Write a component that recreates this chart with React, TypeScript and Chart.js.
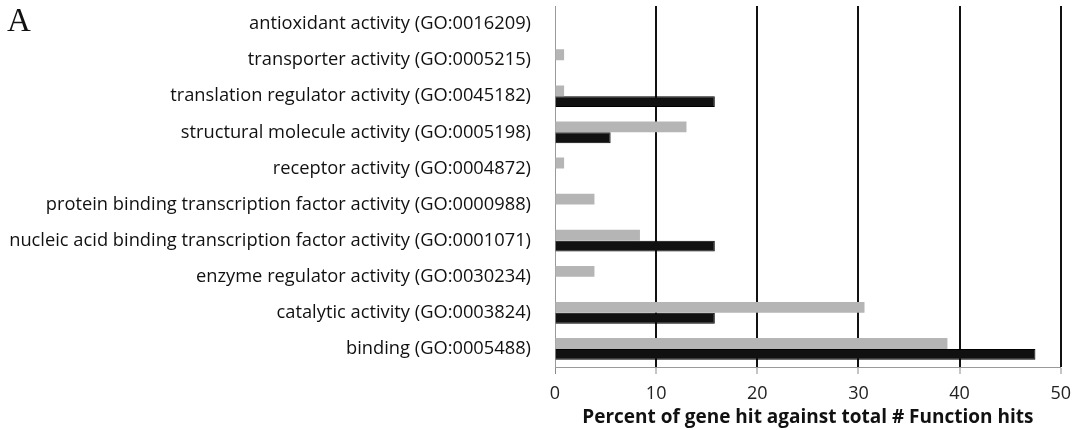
import React, { useEffect, useRef } from "react";
import { Chart, registerables } from "chart.js";

Chart.register(...registerables);

const categories = [
  "antioxidant activity (GO:0016209)",
  "transporter activity (GO:0005215)",
  "translation regulator activity (GO:0045182)",
  "structural molecule activity (GO:0005198)",
  "receptor activity (GO:0004872)",
  "protein binding transcription factor activity (GO:0000988)",
  "nucleic acid binding transcription factor activity (GO:0001071)",
  "enzyme regulator activity (GO:0030234)",
  "catalytic activity (GO:0003824)",
  "binding (GO:0005488)",
];

const grayValues = [0, 0.9, 0.9, 13.0, 0.9, 3.9, 8.4, 3.9, 30.6, 38.8];
const blackValues = [0, 0, 15.8, 5.5, 0, 0, 15.8, 0, 15.8, 47.5];

const xTicks = [0, 10, 20, 30, 40, 50];
const xTitle = "Percent of gene hit against total # Function hits";
const panelLabel = "A";

export default function App() {
  const ref = useRef<HTMLCanvasElement | null>(null);

  useEffect(() => {
    if (!ref.current) return;
    const chart = new Chart(ref.current, {
      type: "bar",
      data: {
        labels: categories,
        datasets: [
          {
            label: "gray",
            data: grayValues,
            backgroundColor: "#b5b5b5",
            borderWidth: 0,
            barPercentage: 1,
            categoryPercentage: 0.6,
          },
          {
            label: "black",
            data: blackValues,
            backgroundColor: "#111111",
            borderColor: "#000000",
            borderWidth: 1,
            barPercentage: 1,
            categoryPercentage: 0.6,
          },
        ],
      },
      options: {
        indexAxis: "y",
        animation: false,
        responsive: false,
        maintainAspectRatio: false,
        layout: { padding: { left: 0, right: 16, top: 6, bottom: 0 } },
        plugins: {
          legend: { display: false },
          tooltip: { enabled: false },
        },
        scales: {
          x: {
            min: 0,
            max: 50,
            afterBuildTicks: (scale: any) => {
              scale.ticks = xTicks.map((v) => ({ value: v }));
            },
            afterFit: (scale: any) => {
              scale.height = 63;
            },
            grid: {
              color: (ctx: any) => (ctx.tick && ctx.tick.value === 0 ? "#9a9a9a" : "#111111"),
              lineWidth: (ctx: any) => (ctx.tick && ctx.tick.value === 0 ? 1 : 2),
              tickColor: "#8a8a8a",
              tickLength: 7,
              tickWidth: 1,
            },
            border: { display: true, color: "#9a9a9a", width: 1 },
            ticks: {
              color: "#222222",
              font: { family: "Open Sans", size: 18 },
              padding: 9,
            },
            title: {
              display: true,
              text: xTitle,
              color: "#111111",
              font: { family: "Open Sans", size: 19, weight: "bold", lineHeight: 1 },
              padding: { top: 0, bottom: 3 },
            },
          },
          y: {
            afterFit: (scale: any) => {
              scale.width = 555;
              scale.paddingTop = 0;
              scale.paddingBottom = 0;
            },
            grid: { display: false, drawTicks: false },
            border: { display: true, color: "#9a9a9a", width: 1 },
            ticks: {
              color: "#111111",
              font: { family: "Open Sans", size: 18.3 },
              padding: 24,
              autoSkip: false,
            },
          },
        },
      },
    });
    return () => chart.destroy();
  }, []);

  return (
    <div style={{ position: "fixed", left: 0, top: 0, width: 1080, height: 430, background: "#fff" }}>
      <canvas ref={ref} width={1080} height={430} style={{ display: "block" }} />
      <div
        style={{
          position: "absolute",
          left: 7,
          top: 1,
          fontFamily: "Liberation Serif, serif",
          fontSize: 33,
          lineHeight: "38px",
          color: "#111",
        }}
      >
        {panelLabel}
      </div>
    </div>
  );
}
